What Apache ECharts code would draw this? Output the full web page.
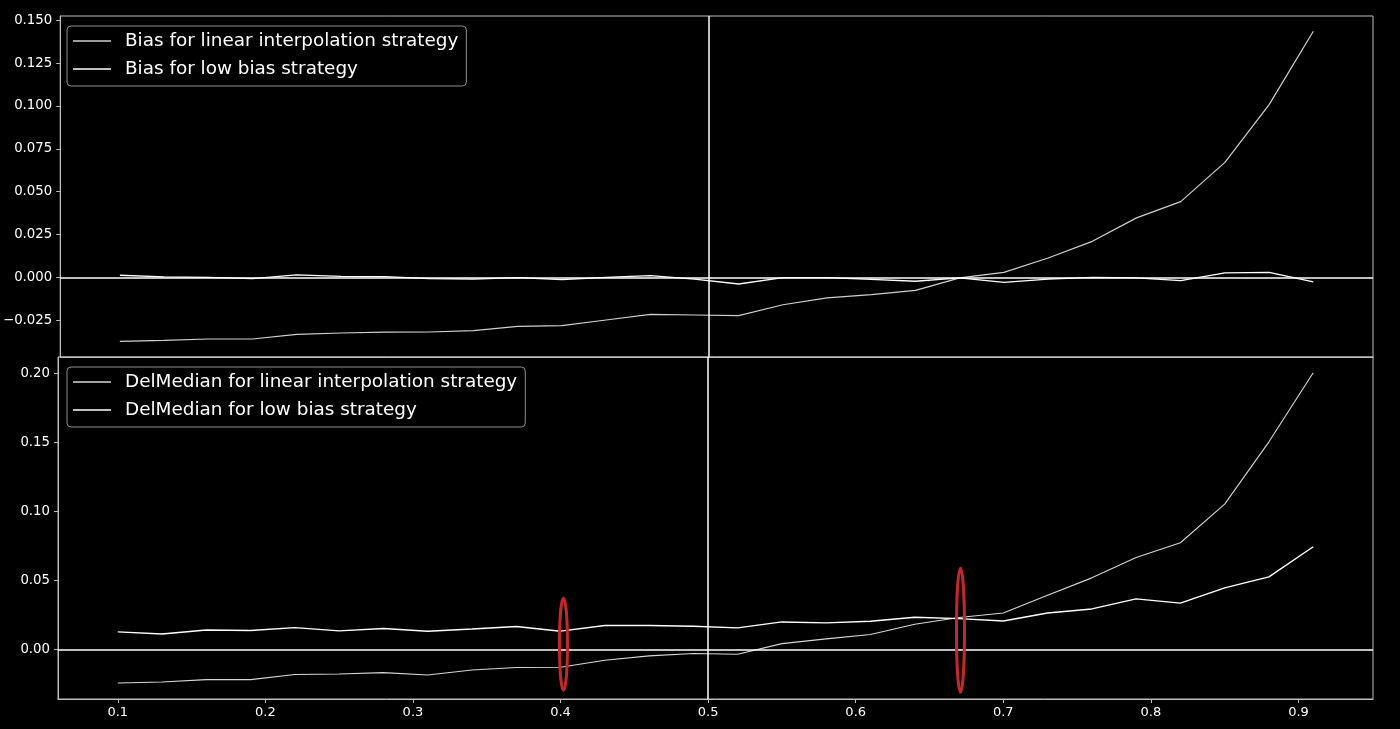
<!DOCTYPE html>
<html>
<head>
<meta charset="utf-8">
<script src="https://cdn.jsdelivr.net/npm/echarts@6/dist/echarts.min.js"></script>
<style>
  html, body { margin: 0; padding: 0; background: #000; }
  #main { width: 1400px; height: 729px; }
</style>
</head>
<body>
<div id="main"></div>
<script>
// quantile levels on the x axis
const quantiles = [0.10, 0.13, 0.16, 0.19, 0.22, 0.25, 0.28, 0.31, 0.34, 0.37,
    0.40, 0.43, 0.46, 0.49, 0.52, 0.55, 0.58, 0.61, 0.64, 0.67,
    0.70, 0.73, 0.76, 0.79, 0.82, 0.85, 0.88, 0.91];

// top panel: bias
const biasLinear = [-0.0374, -0.0368, -0.0360, -0.0360, -0.0333, -0.0325, -0.0320, -0.0319, -0.0311, -0.0286,
    -0.0282, -0.0249, -0.0216, -0.0220, -0.0224, -0.0160, -0.0120, -0.0101, -0.0076, -0.0003,
    0.0029, 0.0113, 0.0210, 0.0347, 0.0442, 0.0671, 0.1008, 0.1436];
const biasLow = [0.0012, 0.0003, 0.0000, -0.0008, 0.0014, 0.0006, 0.0004, -0.0008, -0.0010, -0.0002,
    -0.0013, 0.0000, 0.0010, -0.0010, -0.0039, -0.0002, -0.0002, -0.0012, -0.0023, -0.0003,
    -0.0029, -0.0010, 0.0000, -0.0003, -0.0019, 0.0026, 0.0029, -0.0027];

// bottom panel: DelMedian
const delLinear = [-0.0242, -0.0235, -0.0218, -0.0218, -0.0181, -0.0177, -0.0167, -0.0184, -0.0148, -0.0130,
    -0.0128, -0.0078, -0.0046, -0.0029, -0.0034, 0.0043, 0.0077, 0.0109, 0.0183, 0.0232,
    0.0265, 0.0393, 0.0519, 0.0667, 0.0773, 0.1053, 0.1504, 0.2004];
const delLow = [0.0128, 0.0113, 0.0142, 0.0138, 0.0159, 0.0135, 0.0152, 0.0133, 0.0149, 0.0167,
    0.0133, 0.0174, 0.0174, 0.0169, 0.0157, 0.0200, 0.0193, 0.0205, 0.0234, 0.0224,
    0.0207, 0.0265, 0.0294, 0.0367, 0.0336, 0.0447, 0.0526, 0.0744];

// tick labels
const xTicks = [0.1, 0.2, 0.3, 0.4, 0.5, 0.6, 0.7, 0.8, 0.9];
const biasTicks = [-0.025, 0, 0.025, 0.05, 0.075, 0.1, 0.125, 0.15];
const delTicks = [0, 0.05, 0.1, 0.15, 0.2];

// red hand-drawn marks: [x, yLow, yHigh] in bottom-panel data units
const redMarks = [[0.402, -0.0295, 0.0372], [0.671, -0.031, 0.0589]];

const FONT = 'DejaVu Sans';
const SPINE = '#bdbdbd';

function pairs(ys) {
    return quantiles.map(function (x, i) { return [x, ys[i]]; });
}
function fmt(v, d) {
    return v.toFixed(d).replace('-', '\u2212');
}

function xAxisFor(gridIndex, showLabels) {
    return {
        type: 'value', gridIndex: gridIndex, min: 0.0595, max: 0.9505,
        axisLine: { show: true, onZero: false, lineStyle: { color: SPINE, width: 1 } },
        axisTick: { show: showLabels, length: 4, customValues: xTicks, lineStyle: { color: SPINE } },
        axisLabel: {
            show: showLabels, customValues: xTicks, margin: 7,
            color: '#ffffff', fontFamily: FONT, fontSize: 13,
            formatter: function (v) { return fmt(v, 1); }
        },
        splitLine: { show: false }
    };
}
function yAxisFor(gridIndex, min, max, ticks, digits) {
    return {
        type: 'value', gridIndex: gridIndex, min: min, max: max,
        axisLine: { show: true, onZero: false, lineStyle: { color: SPINE, width: 1 } },
        axisTick: { show: true, length: 4, customValues: ticks, lineStyle: { color: SPINE } },
        axisLabel: {
            customValues: ticks, margin: 8,
            color: '#ffffff', fontFamily: FONT, fontSize: 13.3,
            formatter: function (v) { return fmt(v, digits); }
        },
        splitLine: { show: false }
    };
}

const refLines = {
    silent: true, symbol: 'none', label: { show: false },
    lineStyle: { color: '#ffffff', width: 1.5, type: 'solid' },
    data: [{ xAxis: 0.5 }, { yAxis: 0 }],
    animation: false
};

function lineSeries(name, ys, idx, color, width, withRefs) {
    const s = {
        name: name, type: 'line', xAxisIndex: idx, yAxisIndex: idx,
        data: pairs(ys), symbol: 'none', showSymbol: false,
        lineStyle: { color: color, width: width },
        itemStyle: { color: color },
        z: 3
    };
    if (withRefs) s.markLine = refLines;
    return s;
}

const legendBase = {
    orient: 'vertical', left: 67,
    icon: 'rect', itemWidth: 38, itemHeight: 1.4, itemGap: 8,
    padding: [5, 8, 7, 6],
    backgroundColor: 'rgba(0,0,0,0.8)',
    borderColor: '#8f8f8f', borderWidth: 1, borderRadius: 4,
    textStyle: { color: '#ffffff', fontFamily: FONT, fontSize: 18.4, lineHeight: 20, padding: [0, 0, 0, 9] },
    selectedMode: false
};

var chartDom = document.getElementById('main');
var myChart = echarts.init(chartDom, null, { renderer: 'canvas' });
var option = {
    backgroundColor: '#000000',
    animation: false,
    grid: [
        { left: 58, right: 27, top: 16, height: 341, show: true, borderColor: SPINE, borderWidth: 1, backgroundColor: 'transparent' },
        { left: 58, right: 27, top: 357, height: 342, show: true, borderColor: SPINE, borderWidth: 1, backgroundColor: 'transparent' }
    ],
    legend: [
        Object.assign({}, legendBase, {
            top: 26,
            data: ['Bias for linear interpolation strategy', 'Bias for low bias strategy']
        }),
        Object.assign({}, legendBase, {
            top: 367,
            data: ['DelMedian for linear interpolation strategy', 'DelMedian for low bias strategy']
        })
    ],
    xAxis: [xAxisFor(0, false), xAxisFor(1, true)],
    yAxis: [
        yAxisFor(0, -0.0465, 0.1525, biasTicks, 3),
        yAxisFor(1, -0.0358, 0.2118, delTicks, 2)
    ],
    series: [
        lineSeries('Bias for linear interpolation strategy', biasLinear, 0, '#cfcfcf', 1.2, false),
        lineSeries('Bias for low bias strategy', biasLow, 0, '#ffffff', 1.3, true),
        lineSeries('DelMedian for linear interpolation strategy', delLinear, 1, '#d6d6d6', 1.1, false),
        lineSeries('DelMedian for low bias strategy', delLow, 1, '#ffffff', 1.4, true)
    ]
};
option && myChart.setOption(option);

// red scribble marks placed through the bottom grid's scales
const marks = redMarks.map(function (m) {
    const top = myChart.convertToPixel({ gridIndex: 1 }, [m[0], m[2]]);
    const bot = myChart.convertToPixel({ gridIndex: 1 }, [m[0], m[1]]);
    return {
        type: 'ellipse', silent: true, z: 100,
        shape: { cx: top[0], cy: (top[1] + bot[1]) / 2, rx: 4, ry: (bot[1] - top[1]) / 2 },
        style: { fill: 'none', stroke: '#c9252b', lineWidth: 3 }
    };
});
myChart.setOption({ graphic: marks });
</script>
</body>
</html>
